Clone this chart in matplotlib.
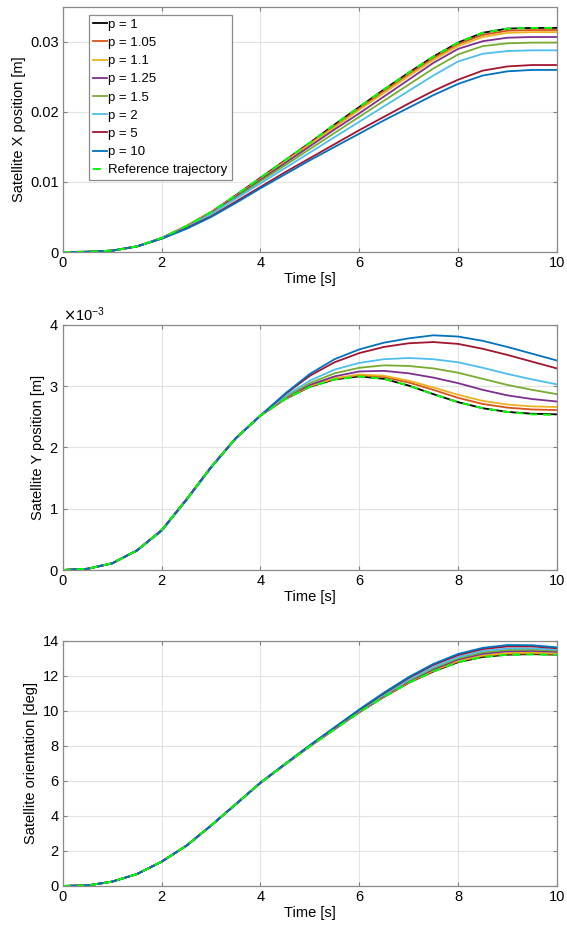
import matplotlib
matplotlib.use("Agg")
import matplotlib.pyplot as plt
from matplotlib.ticker import ScalarFormatter

plt.rcParams['font.family'] = ['Liberation Sans', 'DejaVu Sans']

time = [0, 0.5, 1, 1.5, 2, 2.5, 3, 3.5, 4, 4.5, 5, 5.5, 6, 6.5, 7, 7.5, 8, 8.5, 9, 9.5, 10]

labels = ['p = 1', 'p = 1.05', 'p = 1.1', 'p = 1.25', 'p = 1.5', 'p = 2', 'p = 5', 'p = 10']
colors = ['#000000', '#D95319', '#EDB120', '#7E2F8E', '#77AC30', '#4DBEEE', '#A2142F', '#0072BD']

# satellite X position [m]
x_ref = [0, 0.00003, 0.0002, 0.0008, 0.0020, 0.0037, 0.0057, 0.0081, 0.0106, 0.0131, 0.0156,
         0.0182, 0.0207, 0.0232, 0.0256, 0.0279, 0.0299, 0.0313, 0.0319, 0.0320, 0.0320]
x_p1 = [0, 0.00003, 0.0002, 0.0008, 0.0020, 0.0037, 0.0057, 0.0081, 0.0106, 0.0131, 0.0156,
        0.0182, 0.0207, 0.0232, 0.0256, 0.0279, 0.0299, 0.0313, 0.0319, 0.0320, 0.0320]
x_p105 = [0, 0.00003, 0.0002, 0.0008, 0.0020, 0.0037, 0.0057, 0.0080, 0.0105, 0.0130, 0.0155,
          0.0180, 0.0205, 0.0230, 0.0254, 0.0277, 0.0297, 0.0310, 0.0316, 0.0317, 0.0317]
x_p11 = [0, 0.00003, 0.0002, 0.0008, 0.0020, 0.0037, 0.0057, 0.0080, 0.0104, 0.0129, 0.0154,
         0.0178, 0.0203, 0.0227, 0.0251, 0.0274, 0.0294, 0.0307, 0.0313, 0.0314, 0.0314]
x_p125 = [0, 0.00003, 0.0002, 0.0008, 0.0020, 0.0036, 0.0056, 0.0079, 0.0103, 0.0127, 0.0151,
          0.0175, 0.0198, 0.0222, 0.0246, 0.0270, 0.0290, 0.0301, 0.0306, 0.0307, 0.0307]
x_p15 = [0, 0.00003, 0.0002, 0.0008, 0.0020, 0.0036, 0.0055, 0.0077, 0.0101, 0.0124, 0.0147,
         0.0170, 0.0193, 0.0216, 0.0239, 0.0262, 0.0282, 0.0294, 0.0298, 0.0299, 0.0299]
x_p2 = [0, 0.00003, 0.0002, 0.0008, 0.0020, 0.0035, 0.0054, 0.0076, 0.0098, 0.0120, 0.0142,
        0.0164, 0.0186, 0.0208, 0.0230, 0.0252, 0.0272, 0.0283, 0.0287, 0.0288, 0.0288]
x_p5 = [0, 0.00003, 0.0002, 0.0008, 0.0019, 0.0034, 0.0051, 0.0072, 0.0093, 0.0114, 0.0134,
        0.0154, 0.0174, 0.0193, 0.0212, 0.0230, 0.0246, 0.0259, 0.0265, 0.0267, 0.0267]
x_p10 = [0, 0.00003, 0.0002, 0.0008, 0.0019, 0.0033, 0.0050, 0.0070, 0.0091, 0.0111, 0.0131,
         0.0150, 0.0169, 0.0188, 0.0206, 0.0224, 0.0240, 0.0252, 0.0258, 0.0260, 0.0260]
x_ticklabels = ['0', '0.01', '0.02', '0.03']

# satellite Y position [x1e-3 m]
y_ref = [0, 0.02, 0.11, 0.32, 0.65, 1.15, 1.68, 2.15, 2.52, 2.79, 2.99,
         3.11, 3.16, 3.12, 3.01, 2.87, 2.74, 2.64, 2.58, 2.54, 2.53]
y_p1 = [0, 0.02, 0.11, 0.32, 0.65, 1.15, 1.68, 2.15, 2.52, 2.79, 2.99,
        3.11, 3.16, 3.12, 3.01, 2.87, 2.74, 2.64, 2.58, 2.55, 2.54]
y_p105 = [0, 0.02, 0.11, 0.32, 0.65, 1.15, 1.68, 2.15, 2.52, 2.80, 3.00,
          3.12, 3.18, 3.15, 3.06, 2.94, 2.81, 2.71, 2.65, 2.62, 2.61]
y_p11 = [0, 0.02, 0.11, 0.32, 0.65, 1.15, 1.68, 2.15, 2.52, 2.80, 3.00,
         3.13, 3.19, 3.17, 3.09, 2.98, 2.86, 2.76, 2.70, 2.67, 2.66]
y_p125 = [0, 0.02, 0.11, 0.32, 0.65, 1.15, 1.68, 2.15, 2.52, 2.81, 3.02,
          3.16, 3.24, 3.25, 3.21, 3.14, 3.05, 2.94, 2.85, 2.79, 2.75]
y_p15 = [0, 0.02, 0.11, 0.32, 0.65, 1.15, 1.68, 2.15, 2.52, 2.82, 3.05,
         3.21, 3.30, 3.34, 3.33, 3.29, 3.22, 3.12, 3.02, 2.94, 2.87]
y_p2 = [0, 0.02, 0.11, 0.32, 0.65, 1.15, 1.68, 2.15, 2.52, 2.84, 3.09,
        3.27, 3.38, 3.44, 3.46, 3.44, 3.39, 3.30, 3.20, 3.11, 3.03]
y_p5 = [0, 0.02, 0.11, 0.32, 0.65, 1.15, 1.68, 2.15, 2.52, 2.87, 3.17,
        3.39, 3.54, 3.64, 3.70, 3.72, 3.69, 3.61, 3.51, 3.40, 3.29]
y_p10 = [0, 0.02, 0.11, 0.32, 0.64, 1.14, 1.67, 2.15, 2.52, 2.88, 3.20,
         3.44, 3.60, 3.71, 3.78, 3.83, 3.81, 3.74, 3.64, 3.53, 3.42]

# satellite orientation [deg]
th_ref = [0, 0.03, 0.25, 0.68, 1.39, 2.30, 3.45, 4.67, 5.89, 6.95, 7.98,
          8.95, 9.92, 10.80, 11.60, 12.25, 12.78, 13.08, 13.20, 13.23, 13.20]
th_p1 = [0, 0.03, 0.25, 0.68, 1.39, 2.30, 3.45, 4.67, 5.89, 6.95, 7.98,
         8.95, 9.92, 10.80, 11.60, 12.25, 12.78, 13.08, 13.21, 13.24, 13.21]
th_p105 = [0, 0.03, 0.25, 0.68, 1.39, 2.30, 3.45, 4.67, 5.89, 6.95, 7.98,
           8.96, 9.93, 10.82, 11.62, 12.28, 12.82, 13.13, 13.26, 13.28, 13.25]
th_p11 = [0, 0.03, 0.25, 0.68, 1.39, 2.30, 3.45, 4.67, 5.89, 6.95, 7.98,
          8.96, 9.94, 10.83, 11.64, 12.31, 12.85, 13.17, 13.30, 13.32, 13.28]
th_p125 = [0, 0.03, 0.25, 0.68, 1.39, 2.30, 3.45, 4.67, 5.89, 6.95, 7.99,
           8.98, 9.96, 10.86, 11.68, 12.37, 12.93, 13.26, 13.40, 13.42, 13.37]
th_p15 = [0, 0.03, 0.25, 0.68, 1.39, 2.30, 3.45, 4.67, 5.89, 6.96, 8.00,
          8.99, 9.98, 10.90, 11.73, 12.44, 13.00, 13.34, 13.48, 13.50, 13.44]
th_p2 = [0, 0.03, 0.25, 0.68, 1.39, 2.30, 3.45, 4.67, 5.89, 6.96, 8.01,
         9.01, 10.00, 10.93, 11.78, 12.50, 13.07, 13.42, 13.56, 13.57, 13.50]
th_p5 = [0, 0.03, 0.25, 0.68, 1.39, 2.30, 3.45, 4.67, 5.90, 6.97, 8.03,
         9.04, 10.05, 11.00, 11.88, 12.62, 13.18, 13.53, 13.68, 13.68, 13.58]
th_p10 = [0, 0.03, 0.25, 0.68, 1.39, 2.30, 3.45, 4.67, 5.90, 6.98, 8.04,
          9.06, 10.08, 11.04, 11.93, 12.68, 13.25, 13.60, 13.76, 13.75, 13.63]

panels = [
    ([x_p1, x_p105, x_p11, x_p125, x_p15, x_p2, x_p5, x_p10], x_ref, 1.0,
     'Satellite X position [m]', (0, 0.035), [0, 0.01, 0.02, 0.03]),
    ([y_p1, y_p105, y_p11, y_p125, y_p15, y_p2, y_p5, y_p10], y_ref, 1e-3,
     'Satellite Y position [m]', (0, 0.004), [0, 0.001, 0.002, 0.003, 0.004]),
    ([th_p1, th_p105, th_p11, th_p125, th_p15, th_p2, th_p5, th_p10], th_ref, 1.0,
     'Satellite orientation [deg]', (0, 14), [0, 2, 4, 6, 8, 10, 12, 14]),
]

fig = plt.figure(figsize=(5.67, 9.32), dpi=100)
bottoms = [0.7296, 0.3884, 0.0494]

for i, ((series, ref, scale, ylabel, ylim, yticks), b) in enumerate(zip(panels, bottoms)):
    ax = fig.add_axes([0.111, b, 0.871, 0.263])
    for vals, lab, col in zip(series, labels, colors):
        ax.plot(time, [v * scale for v in vals], color=col, lw=1.3, label=lab)
    ax.plot(time, [v * scale for v in ref], color='#00FF00', lw=1.4,
            linestyle=(0, (4, 3)), label='Reference trajectory')
    ax.set_xlim(0, 10)
    ax.set_ylim(*ylim)
    ax.set_xticks([0, 2, 4, 6, 8, 10])
    ax.set_yticks(yticks)
    ax.grid(True, color='#e3e3e3', lw=0.8)
    ax.set_axisbelow(True)
    ax.tick_params(direction='in', top=True, right=True, length=3, labelsize=10.5,
                   color='#7f7f7f', pad=3)
    for sp in ax.spines.values():
        sp.set_color('#8a8a8a')
        sp.set_linewidth(0.9)
    ax.set_xlabel('Time [s]', fontsize=10.5, labelpad=1)
    ax.set_ylabel(ylabel, fontsize=10.5, labelpad=3)
    if i == 0:
        ax.set_yticklabels(x_ticklabels)
        leg = ax.legend(loc='upper left', bbox_to_anchor=(0.052, 0.968), fontsize=9.5,
                        handlelength=1.1, handletextpad=0.1, labelspacing=0.45,
                        borderpad=0.3, borderaxespad=0, fancybox=False, framealpha=1)
        leg.get_frame().set_edgecolor('#8a8a8a')
        leg.get_frame().set_linewidth(0.9)
    if i == 1:
        fmt = ScalarFormatter(useMathText=True)
        fmt.set_powerlimits((-3, -3))
        ax.yaxis.set_major_formatter(fmt)
        ax.yaxis.get_offset_text().set_fontsize(10.5)

fig.savefig('out.png', dpi=100)
